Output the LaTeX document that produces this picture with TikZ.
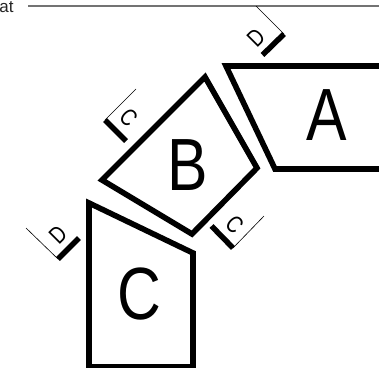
\documentclass[tikz,border=0pt]{standalone}
\usepackage{fontspec}
\setmainfont{Liberation Sans}
\tikzset{
  shapeline/.style={line width=5.6pt,miter limit=10,line join=miter},
  tick/.style={line width=5.5pt},
  thinline/.style={line width=0.6pt},
  big/.style={font=\fontsize{74}{74}\selectfont,xscale=.82,inner sep=0},
  small/.style={font=\fontsize{24}{24}\selectfont,inner sep=0,xscale=.8},
}
\begin{document}
\begin{tikzpicture}[x=1pt,y=-1pt]
\useasboundingbox (0,0) rectangle (379,367);
\clip (0,0) rectangle (379,367);
\fill[white] (0,0) rectangle (379,367);
% top text and rule
\node[anchor=base east,inner sep=0,text=black!85,font=\fontsize{17}{17}\selectfont] (t) at (13.8,12.5) {at};
\coordinate (r1) at (28,6);
\coordinate (r2) at (379,6);
\draw[line width=1.2pt,black!55] (r1) -- (r2);
% shapes
\coordinate (a1) at (226,66); \coordinate (a2) at (275,169);
\draw[shapeline] (385,66) -- (a1) -- (a2) -- (385,169);
\draw[shapeline] (205,77) -- (257,168) -- (192,234) -- (102,180) -- cycle;
\draw[shapeline] (89,203) -- (193,253) -- (193,367) -- (89,367) -- cycle;
\node[big] (A) at (327,115) {A};
\node[big] (B) at (188,165.5) {B};
\node[big] (C) at (139.5,294.5) {C};
% dimension marks
\coordinate (c1a) at (105,120); \coordinate (c1b) at (126,141); \coordinate (c1c) at (136,89);
\draw[tick] (c1a) -- (c1b);
\draw[thinline] (c1a) -- (c1c);
\node[rotate=-45,small] (c1) at (128.5,118) {C};
\coordinate (c2a) at (211.5,226); \coordinate (c2b) at (233,248); \coordinate (c2c) at (264,216);
\draw[tick] (c2a) -- (c2b);
\draw[thinline] (c2b) -- (c2c);
\node[rotate=-45,small] (c2) at (234.5,225) {C};
\coordinate (d1a) at (284,34); \coordinate (d1b) at (262.5,55); \coordinate (d1c) at (256,6);
\draw[tick] (d1a) -- (d1b);
\draw[thinline] (d1a) -- (d1c);
\node[rotate=45,small] (d1) at (256,37.5) {D};
\coordinate (d2a) at (58,259); \coordinate (d2b) at (79,238); \coordinate (d2c) at (26,228);
\draw[tick] (d2a) -- (d2b);
\draw[thinline] (d2a) -- (d2c);
\node[rotate=45,small] (d2) at (58,235) {D};
\end{tikzpicture}
\end{document}
